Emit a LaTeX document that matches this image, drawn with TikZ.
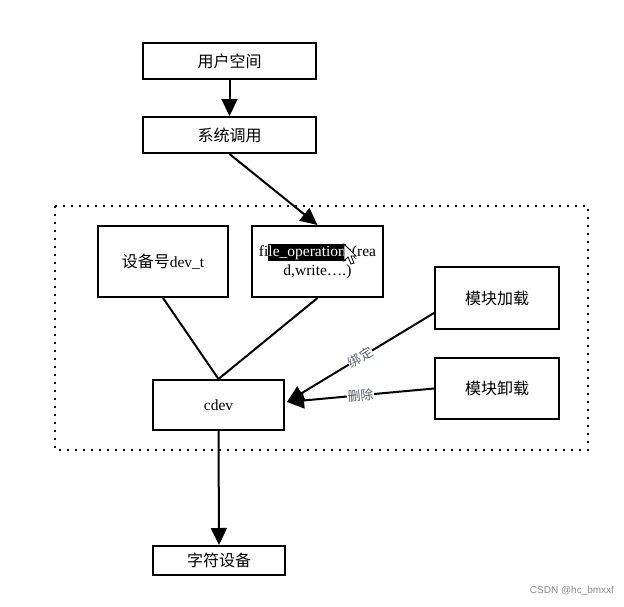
\documentclass[tikz,border=0pt]{standalone}
\usepackage{fontspec}
\setmainfont{Liberation Serif}
\newfontfamily\cjk{Noto Sans CJK SC}
\newfontfamily\wmfont{Liberation Sans}
\usetikzlibrary{arrows.meta,calc}
\definecolor{lblcol}{RGB}{90,96,112}
\newcommand\selhl[1]{{\setlength\fboxsep{0pt}\colorbox{black}{\color{white}\rule[-4pt]{0pt}{17pt}#1}}}
\newcommand\zh[1]{{\fontsize{16}{18}\selectfont\cjk #1}}
\begin{document}
\begin{tikzpicture}[x=1pt,y=-1pt,
  box/.style={draw,line width=2pt,fill=white,inner sep=0pt,font=\fontsize{15.5}{18}\selectfont},
  conn/.style={line width=2pt},
  bigarrow/.style={-{Triangle[length=17pt,width=16pt]}},
  lbl/.style={midway,sloped,fill=white,inner sep=0.5pt,text=lblcol,font=\fontsize{13}{14}\selectfont\cjk}]
\useasboundingbox (0,0) rectangle (624,606);
% dotted frame
\draw[line width=2pt,dash pattern=on 2pt off 6pt] (55,206) rectangle (588,450);
% nodes
\node[box,minimum width=173pt,minimum height=36pt] (user) at (229.5,61) {\zh{用户空间}};
\node[box,minimum width=173pt,minimum height=36pt] (sys) at (229.5,135) {\zh{系统调用}};
\node[box,minimum width=130pt,minimum height=71pt] (devno) at (163,261.5) {\zh{设备号}dev\_t};
\node[box,minimum width=131pt,minimum height=71pt,align=center,font=\fontsize{15.5}{19}\selectfont] (fops) at (317.5,261.5) {fi\selhl{le\_operation}s(rea\\d,write….)};
\node[box,minimum width=124pt,minimum height=62pt] (load) at (497,298) {\zh{模块加载}};
\node[box,minimum width=124pt,minimum height=61pt] (unload) at (497,388.5) {\zh{模块卸载}};
\node[box,minimum width=131pt,minimum height=50pt] (cdev) at (218.5,405) {cdev};
\node[box,minimum width=132pt,minimum height=29pt] (chr) at (219,560.5) {\zh{字符设备}};
% cursor
\coordinate (cur) at (344,244);
\filldraw[fill=white,draw=black,line width=0.8pt,shift={(cur)}] (0,0) -- (0,17) -- (4,13) -- (7,20) -- (10,19) -- (7,12) -- (12,12) -- cycle;
% connectors
\draw[conn,bigarrow] (user.south) -- (sys.north);
\draw[conn,bigarrow] (sys.south) -- (fops.north);
\draw[conn] (devno.south) -- (cdev.north);
\draw[conn] (fops.south) -- (cdev.north);
\draw[conn,bigarrow] ([yshift=-15pt]load.west) -- node[lbl] {绑定} ([xshift=2pt,yshift=3pt]cdev.east);
\draw[conn,bigarrow] (unload.west) -- node[lbl] {删除} ([xshift=2pt,yshift=3pt]cdev.east);
\draw[conn,bigarrow] (cdev.south) -- (chr.north);
% watermark
\node[text=black!45,font=\wmfont\fontsize{10}{12}\selectfont] (wm) at (572,591) {CSDN @hc\_bmxxf};
\end{tikzpicture}
\end{document}
